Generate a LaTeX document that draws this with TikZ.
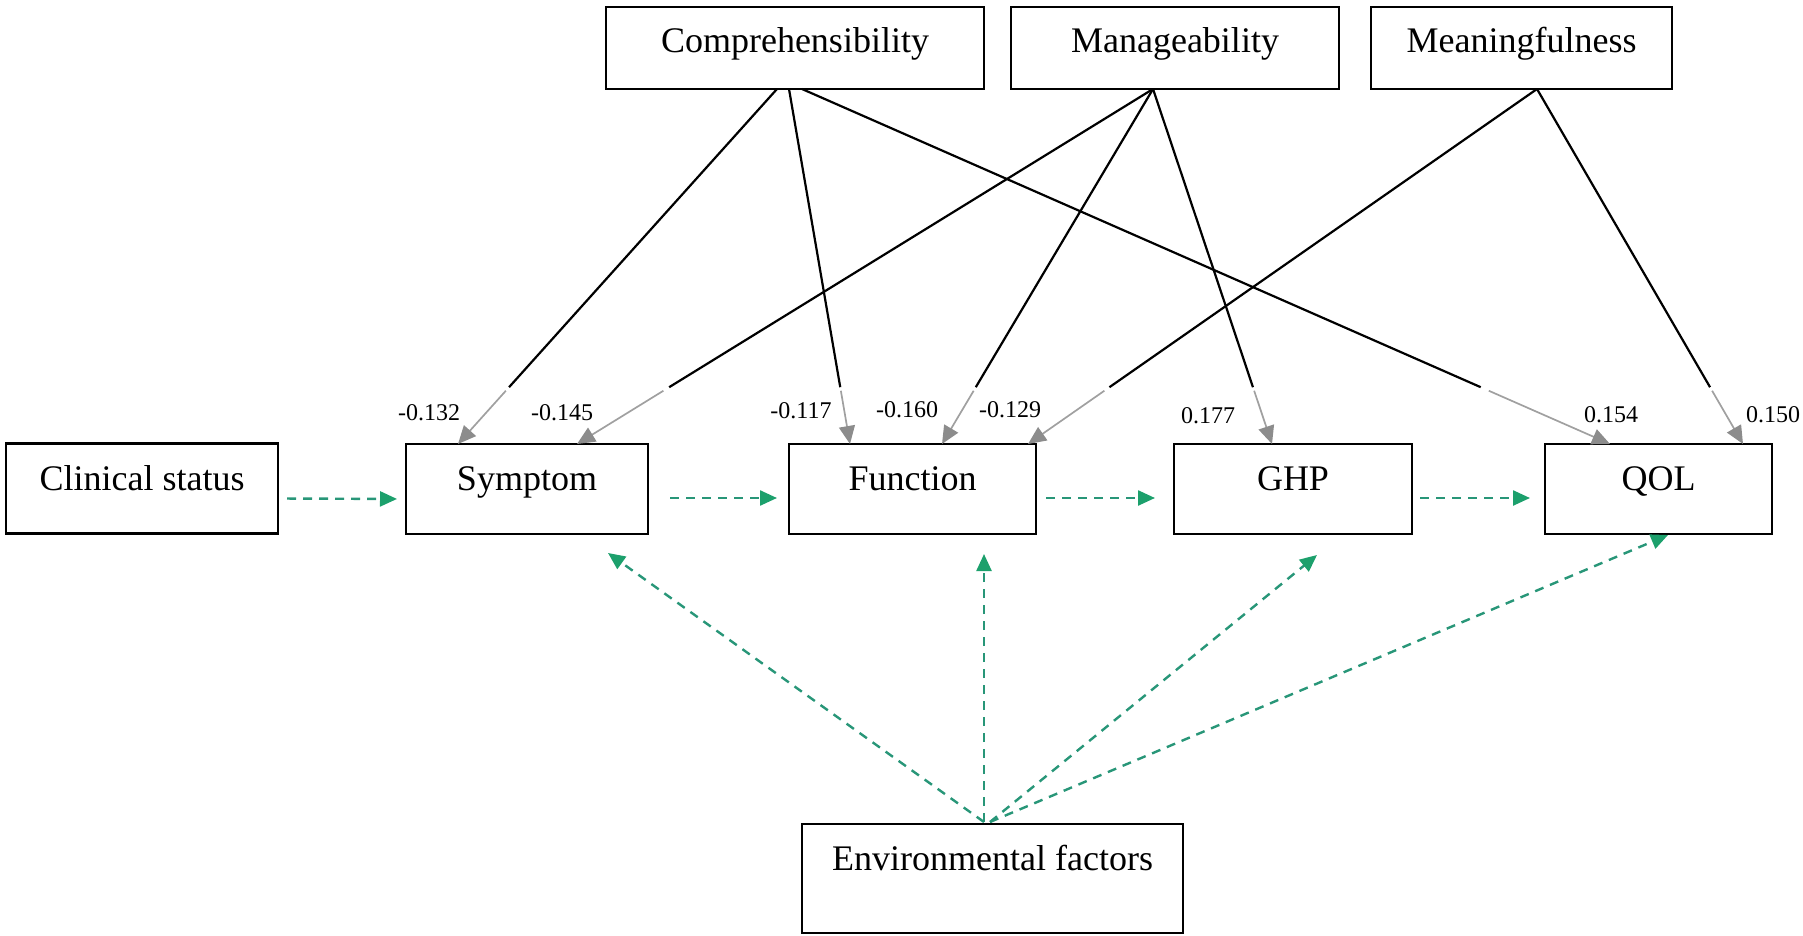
\documentclass[tikz,border=0pt]{standalone}
\usepackage{fontspec}
\setmainfont{Liberation Serif}
\usetikzlibrary{arrows.meta,calc}
\definecolor{pathgreen}{RGB}{40,150,120}
\definecolor{headgreen}{RGB}{28,160,108}
\definecolor{tipgray}{RGB}{140,140,140}
\definecolor{fadegray}{RGB}{160,160,160}

\begin{document}
\begin{tikzpicture}[x=1pt,y=-1pt,
  box/.style={draw=black, line width=2.2pt, rectangle, inner sep=0pt, outer sep=0pt,
    font=\fontsize{36}{40}\selectfont, text height=22pt, text depth=19pt, minimum height=90pt},
  topbox/.style={box, minimum height=82pt, text height=24pt, text depth=14pt},
  envbox/.style={box, minimum height=109pt, text height=12pt, text depth=29pt},
  coef/.style={font=\fontsize{24}{26}\selectfont, inner sep=0pt, anchor=base},
  solidpart/.style={draw=black, line width=2.2pt},
  fadepart/.style={draw=fadegray, line width=1.7pt,
    -{Triangle[length=18pt,width=16pt,fill=tipgray,color=tipgray]}},
  envlink/.style={draw=pathgreen, line width=2.4pt, dash pattern=on 9pt off 7pt,
    -{Triangle[length=17pt,width=15pt,fill=headgreen,color=headgreen]}}
]
\useasboundingbox (0,0) rectangle (1803,936);

% sense of coherence components
\node[topbox, minimum width=378pt] (comp) at (795,48) {Comprehensibility};
\node[topbox, minimum width=328pt] (man)  at (1175,48) {Manageability};
\node[topbox, minimum width=301pt] (mea)  at (1521.5,48) {Meaningfulness};

% main chain
\node[box, minimum width=272pt] (cs)  at (142,488.5) {Clinical status};
\node[box, minimum width=242pt] (sym) at (527,489) {Symptom};
\node[box, minimum width=247pt] (fun) at (912.5,489) {Function};
\node[box, minimum width=238pt] (ghp) at (1293,489) {GHP};
\node[box, minimum width=227pt] (qol) at (1658.5,489) {QOL};

\node[envbox, minimum width=381pt] (env) at (992.5,878.5) {Environmental factors};

% start and end points of the coefficient paths
\coordinate (c1) at ($(comp.south west)+(171,0)$);
\coordinate (c2) at ($(comp.south west)+(183,0)$);
\coordinate (c3) at ($(comp.south west)+(196,0)$);
\coordinate (m0) at ($(man.south west)+(142,0)$);
\coordinate (n0) at ($(mea.south west)+(166,0)$);
\coordinate (s1) at ($(sym.north west)+(52,0)$);
\coordinate (s2) at ($(sym.north west)+(171,0)$);
\coordinate (f1) at ($(fun.north west)+(61,0)$);
\coordinate (f2) at ($(fun.north west)+(153,0)$);
\coordinate (f3) at ($(fun.north west)+(239,0)$);
\coordinate (g1) at ($(ghp.north west)+(98,0)$);
\coordinate (q1) at ($(qol.north west)+(65,0)$);
\coordinate (q2) at ($(qol.north west)+(198,0)$);

% each path: dark upper part, lighter part ending in an arrowhead
\foreach \a/\b in {c1/s1, m0/s2, c2/f1, m0/f2, n0/f3, m0/g1, c3/q1, n0/q2}{
  \draw[solidpart] (\a) -- ($(\a)!0.84!(\b)$);
  \draw[fadepart] ($(\a)!0.85!(\b)$) -- (\b);
}

% coefficients
\node[coef] (k1) at (429,420) {-0.132};
\node[coef] (k2) at (562,420) {-0.145};
\node[coef] (k3) at (801,418) {-0.117};
\node[coef] (k4) at (907,417) {-0.160};
\node[coef] (k5) at (1010,417) {-0.129};
\node[coef] (k6) at (1208,423) {0.177};
\node[coef] (k7) at (1611,422) {0.154};
\node[coef] (k8) at (1773,422) {0.150};

% chain links
\draw[envlink, shorten <=9pt, shorten >=9pt] ([yshift=-10pt]cs.east) -- ([yshift=-10pt]sym.west);
\draw[envlink, shorten <=22pt, shorten >=12pt] ([yshift=-9pt]sym.east) -- ([yshift=-9pt]fun.west);
\draw[envlink, shorten <=10pt, shorten >=19pt] ([yshift=-9pt]fun.east) -- ([yshift=-9pt]ghp.west);
\draw[envlink, shorten <=8pt, shorten >=15pt] ([yshift=-9pt]ghp.east) -- ([yshift=-9pt]qol.west);

% environmental influences
\coordinate (e1) at ($(env.north west)+(182,-2)$);
\coordinate (e2) at ($(env.north west)+(188,-2)$);
\draw[envlink] (e1) -- ($(sym.south west)+(202,19)$);
\draw[envlink] (e1) -- ($(fun.south west)+(195,20)$);
\draw[envlink] (e2) -- ($(ghp.south west)+(143,21)$);
\draw[envlink] (e2) -- ($(qol.south west)+(123,1)$);
\end{tikzpicture}
\end{document}
